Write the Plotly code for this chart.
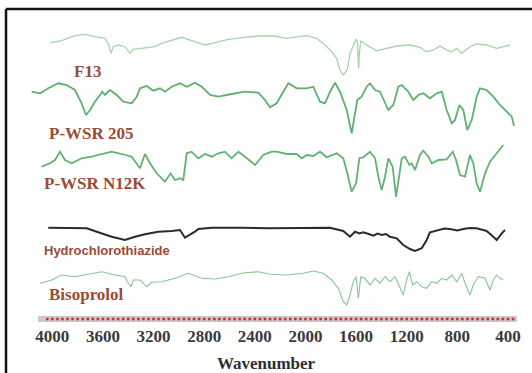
import numpy as np
import plotly.graph_objects as go

# ---------------- data (wavenumber, relative transmittance) ----------------
F13_WN = [4018, 3926, 3821, 3742, 3663, 3584, 3558, 3536, 3518, 3479, 3426, 3386, 3360, 3294,
          3189, 3136, 3057, 2978, 2899, 2794, 2715, 2609, 2478, 2372, 2241, 2148, 1990, 1911,
          1845, 1792, 1753, 1727, 1701, 1669, 1648, 1616, 1600, 1590, 1579, 1574, 1563, 1529,
          1490, 1437, 1358, 1279, 1174, 1095, 1042, 990, 937, 884, 844, 805, 765, 700, 647,
          568, 489, 437, 384]
F13_T = [-2.7, -0.7, 4.3, 5.7, 3.3, 1.7, -3.3, -13.3, -6.7, -5, -6.7, -13.3, -9.3, -8.3,
         -6.7, -3.3, 0, 2.7, -0.7, -5, -2.7, 0.7, 2.7, 4, 4, 1.7, 4.3, 1.7,
         -5, -11.7, -18.3, -30, -35, -30, -13.3, -3.3, 0.7, -1.7, -28.3, -13, -0.7, -4,
         -6.7, -10.7, -8.3, -6, -5, -7.3, -11.7, -10, -6, -10, -11.7, -8.3, -13.3, -6.7, -4,
         -5, -8.3, -6.7, -5]

PWSR205_WN = [4163, 4097, 4032, 3953, 3886, 3821, 3768, 3734, 3702, 3663, 3623, 3605, 3584, 3544,
              3491, 3439, 3373, 3333, 3307, 3254, 3202, 3149, 3110, 3057, 2991, 2938, 2873, 2820,
              2754, 2688, 2583, 2478, 2372, 2320, 2280, 2227, 2175, 2135, 2069, 1990, 1938, 1885,
              1845, 1806, 1766, 1727, 1674, 1635, 1608, 1590, 1556, 1516, 1490, 1450, 1411, 1371,
              1345, 1306, 1266, 1239, 1187, 1148, 1108, 1069, 1016, 963, 923, 884, 844, 818,
              784, 753, 721, 686, 647, 621, 568, 516, 463, 410, 370, 352]
PWSR205_T = [-1.7, -3.3, 1.7, 6.7, 5, 0, -13.3, -25, -20, -11.7, -5, -1.7, -5, 0,
             -5, -11.7, -13.3, -6.7, 1.7, 4, -0.7, 1.7, -1.7, 3.3, 6.7, 3.3, 7.3, 3.3,
             -5, -6.7, -4, -1.7, -2.7, -10, -17.3, -13.3, -1.7, 6.7, 1.7, 1.7, 3.3, -11.7,
             -13.3, -1.7, 7.3, -1.7, -20, -43.3, -23.3, -10, -6.7, 3.3, 6.7, 0, -1.7, -13.3,
             -20, -15, 3.3, 5, -1.7, -10, -5, -3.3, -8.3, -3.3, -1.7, -20, -33.3, -30,
             -15, -20, -40, -30, -6.7, 1.7, 0, -6.7, -15, -21.7, -26.7, -36]

N12K_WN = [4084, 4018, 3979, 3939, 3900, 3847, 3768, 3689, 3610, 3531, 3452, 3373, 3307, 3268,
           3228, 3175, 3110, 3065, 3031, 2991, 2965, 2938, 2899, 2846, 2794, 2741, 2688, 2636,
           2583, 2530, 2478, 2398, 2333, 2267, 2227, 2148, 2069, 2030, 1990, 1938, 1885, 1832,
           1753, 1701, 1669, 1635, 1600, 1574, 1543, 1490, 1450, 1424, 1398, 1371, 1345, 1311,
           1284, 1266, 1239, 1213, 1179, 1160, 1134, 1095, 1069, 1029, 1002, 950, 884, 836,
           810, 779, 739, 700, 674, 647, 621, 581, 542, 489, 449, 437]
N12K_T = [-11.7, -8.3, -5, 3.3, -5, -8.3, -3.3, -1.7, 1, 3.3, 1, -1.7, -13.3, 1,
          -8.3, -18.3, -26.7, -18.3, -25, -23.3, -25, 1.7, 3.3, -3.3, 1, -1.7, 1.7, 3.3,
          -3.3, 3.3, -1.7, -10, 0, 3.3, 3.3, 1, 1, -3.3, 0, -1, 3.3, -2.3,
          1.7, -3.3, -18.3, -36.7, -28.3, -3.3, -2.3, 3.3, -3.3, -21.7, -35, -21.7, -3.3, -11.7,
          -41.7, -25, -3.3, -1.7, -10, -8.3, -15, 0, 4.3, -1.7, -8.3, -5, -4.3, 3.3,
          -5, -20, -21.7, 0, -8.3, -28.3, -36.7, -18.3, -6.7, 1.7, 7.7, 10]

HCT_WN = [4032, 3874, 3728, 3637, 3531, 3426, 3347, 3268, 3163, 3057, 2991, 2952, 2912, 2873,
          2846, 2741, 2504, 2280, 1806, 1753, 1701, 1648, 1608, 1575, 1543, 1500, 1464, 1430,
          1398, 1365, 1332, 1279, 1227, 1174, 1134, 1081, 1042, 1016, 980, 937, 900, 858, 800,
          753, 700, 647, 600, 568, 516, 489, 449, 423]
HCT_T = [0.3, 0.3, -0.3, -4.3, -8.7, -12, -8.7, -6.3, -3.7, -3, -2, -9.7, -7, -3.7,
         -1, 0.3, 0.3, -0.3, 0.3, -1, -3, -8.7, -3.7, -5.5, -4.3, -6, -7.7, -5.5,
         -7, -6, -8.7, -10.3, -17, -21, -23, -20.3, -12, -4.3, -3, -2, -0.5, -1, -2.5,
         -1, 0, -0.3, -1.5, -3, -8.7, -12, -5.3, -2]

BISO_WN = [4097, 4005, 3926, 3821, 3716, 3610, 3505, 3426, 3400, 3378, 3360, 3307, 3254, 3215,
           3136, 3031, 2925, 2820, 2715, 2609, 2504, 2372, 2280, 2148, 2017, 1938, 1859, 1792,
           1740, 1701, 1674, 1648, 1622, 1600, 1582, 1563, 1529, 1490, 1450, 1411, 1371, 1332,
           1292, 1253, 1227, 1200, 1179, 1153, 1121, 1081, 1042, 1002, 963, 923, 884, 844,
           805, 765, 739, 700, 674, 634, 581, 542, 516, 489, 463, 437]
BISO_T = [-8.3, -5, 0, -1.7, 0.7, 3.3, 0, -1.7, -8.3, -11.7, -5, -5, -11.7, -7.3,
          -6.7, -3.3, 1.7, -3.3, -4, -1.7, 1.7, 3.3, 0.7, 0, 1.7, 4, 1.7, -5,
          -13.3, -26.7, -30, -20, -6.7, -1.7, -23.3, -1.7, -3.3, -10, -3.3, -8.3, -1.7, -6.7,
          -1.7, -13.3, -20, -5, 3.3, -10, -6.7, -11.7, -13.3, -6.7, -8.3, -3.3, -5, 0,
          -6.7, 1.7, -8.3, -20, -10, -1.7, -3.3, -15, -5, 0, -3.3, -5]

SERIES_NAMES = ["F13", "P-WSR 205", "P-WSR N12K", "Hydrochlorothiazide", "Bisoprolol"]
TICK_VALUES = [4000, 3600, 3200, 2800, 2400, 2000, 1600, 1200, 800, 400]
X_TITLE = "Wavenumber"

# ---------------- styling / placement ----------------
offsets = [279, 229, 164, 91, 44]
colors = ["#a3d5ab", "#5fb06e", "#62b271", "#2b2b2b", "#86c792"]
widths = [1.3, 1.8, 1.8, 2.0, 1.1]
label_pos = [(3718, 247.3), (3690, 186), (3659, 135.7), (3564, 69), (3730, 24.7)]
label_font = ["Liberation Serif", "Liberation Serif", "Liberation Serif",
              "Liberation Sans", "Liberation Serif"]
label_size = [17, 17, 17, 13, 17]
label_color = "#9a4b36"

series = [(F13_WN, F13_T), (PWSR205_WN, PWSR205_T), (N12K_WN, N12K_T),
          (HCT_WN, HCT_T), (BISO_WN, BISO_T)]

PLOT_H = 322  # plot-area height in px (1 y unit = 1 px)

fig = go.Figure()
for (wn, t), off, c, w, name in zip(series, offsets, colors, widths, SERIES_NAMES):
    fig.add_trace(go.Scatter(x=wn, y=np.array(t) + off, mode="lines",
                             line=dict(color=c, width=w),
                             name=name, showlegend=False, hoverinfo="skip"))

# axis band with red dotted ticks
dots = np.arange(4040, 350, -40)
fig.add_shape(type="rect", xref="x", yref="y", x0=4113, x1=329, y0=-3, y1=3,
              fillcolor="#cacaca", line=dict(width=0), layer="below")
fig.add_trace(go.Scatter(x=dots, y=np.zeros(len(dots)), mode="markers",
                         marker=dict(symbol="square", size=2.6, color="#e02a2a"),
                         showlegend=False, hoverinfo="skip", cliponaxis=False))

for name, (lx, ly), f, s in zip(SERIES_NAMES, label_pos, label_font, label_size):
    fig.add_annotation(x=lx, y=ly, text="<b>%s</b>" % name, showarrow=False,
                       font=dict(family=f, size=s, color=label_color),
                       xanchor="center", yanchor="middle")

# frame (left and top borders)
top = (PLOT_H - 9) / PLOT_H
fig.add_shape(type="line", xref="paper", yref="paper", x0=6 / 532, x1=6 / 532,
              y0=top, y1=-70 / PLOT_H, line=dict(color="#111", width=2.5))
fig.add_shape(type="line", xref="paper", yref="paper", x0=6 / 532, x1=1.02,
              y0=top, y1=top, line=dict(color="#111", width=2.5))

fig.update_layout(
    width=532, height=373,
    margin=dict(l=0, r=0, t=0, b=373 - PLOT_H),
    paper_bgcolor="white", plot_bgcolor="white",
    xaxis=dict(range=[4413.2, 210.0], showgrid=False, zeroline=False, showline=False,
               tickvals=TICK_VALUES, ticktext=["<b>%d</b>" % v for v in TICK_VALUES],
               ticks="", ticklabelstandoff=2,
               tickfont=dict(family="Liberation Serif", size=17, color="#3a3a3a"),
               title=dict(text="<b>%s</b>" % X_TITLE, standoff=12,
                          font=dict(family="Liberation Serif", size=17, color="#2e2e2e"))),
    yaxis=dict(range=[-3, 319], visible=False),
)

fig.write_html("out.html", config={"displayModeBar": False},
               post_script="document.body.style.margin='0';document.body.style.overflow='hidden';")
